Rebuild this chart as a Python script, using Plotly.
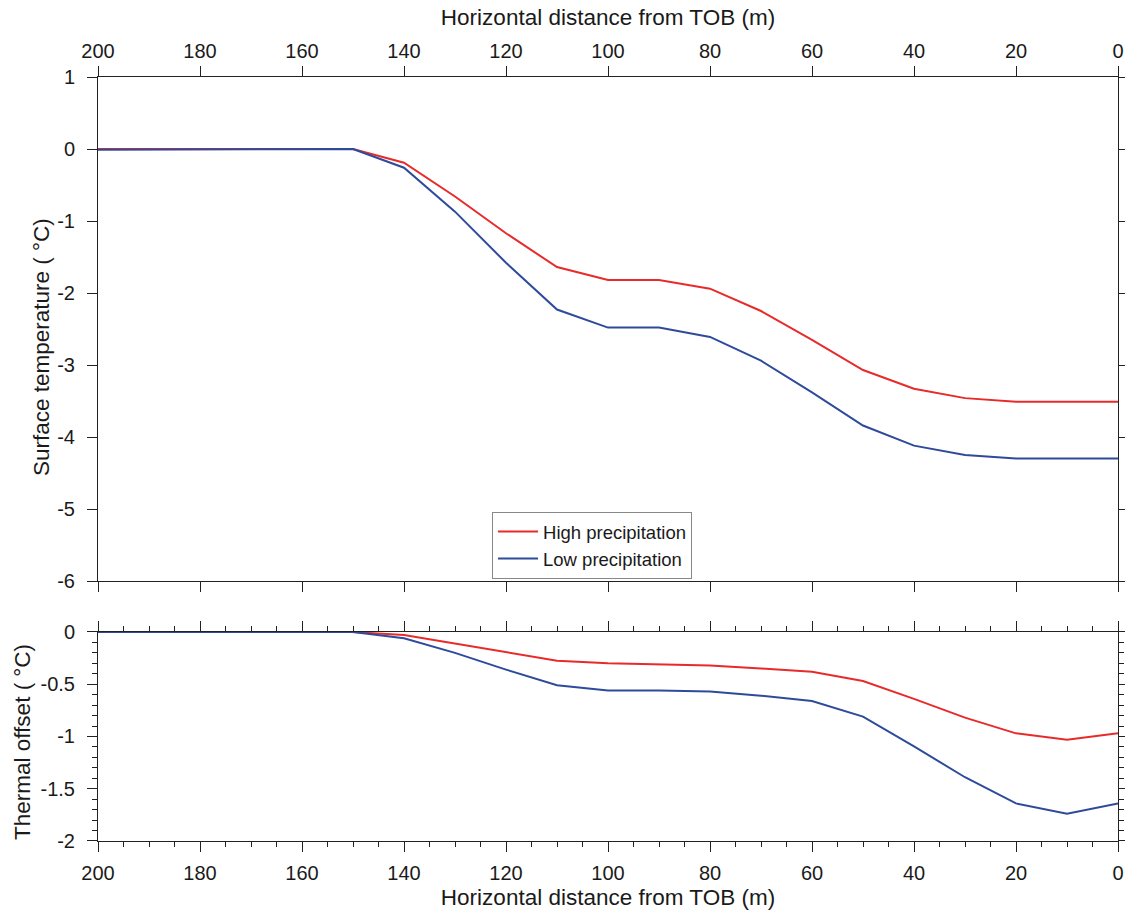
import plotly.graph_objects as go

# Horizontal distance from the top of the bank (m)
distance = [200, 190, 180, 170, 160, 150, 140, 130, 120, 110, 100, 90, 80, 70, 60, 50, 40, 30, 20, 10, 0]

# Surface temperature (°C)
surf_high = [0, 0, 0, 0, 0, 0, -0.19, -0.66, -1.17, -1.64, -1.82, -1.82, -1.94, -2.25, -2.65, -3.07, -3.33, -3.46, -3.51, -3.51, -3.51]
surf_low = [-0.01, -0.01, 0, 0, 0, 0, -0.26, -0.87, -1.58, -2.23, -2.48, -2.48, -2.61, -2.94, -3.38, -3.84, -4.12, -4.25, -4.30, -4.30, -4.30]

# Thermal offset (°C)
off_high = [0, 0, 0, 0, 0, 0, -0.03, -0.11, -0.195, -0.275, -0.30, -0.31, -0.32, -0.35, -0.38, -0.47, -0.64, -0.82, -0.97, -1.03, -0.97]
off_low = [0, 0, 0, 0, 0, 0, -0.06, -0.20, -0.36, -0.51, -0.56, -0.56, -0.57, -0.61, -0.66, -0.81, -1.095, -1.39, -1.64, -1.74, -1.64]

# Tick labels (plain hyphen as minus sign)
x_ticks = [200, 180, 160, 140, 120, 100, 80, 60, 40, 20, 0]
x_labels = ["200", "180", "160", "140", "120", "100", "80", "60", "40", "20", "0"]
surf_ticks = [1, 0, -1, -2, -3, -4, -5, -6]
surf_labels = ["1", "0", "-1", "-2", "-3", "-4", "-5", "-6"]
off_ticks = [0, -0.5, -1, -1.5, -2]
off_labels = ["0", "-0.5", "-1", "-1.5", "-2"]

RED = "#e82a2a"
BLUE = "#2e4b9b"
AXIS = "#222222"
TEXT = "#1a1a1a"
FONT = "Liberation Sans, Arial, Helvetica, sans-serif"
TITLE_SIZE = 22.5

fig = go.Figure()
fig.add_trace(go.Scatter(x=distance, y=surf_high, mode="lines", name="High precipitation",
                         line=dict(color=RED, width=2), xaxis="x", yaxis="y"))
fig.add_trace(go.Scatter(x=distance, y=surf_low, mode="lines", name="Low precipitation",
                         line=dict(color=BLUE, width=2), xaxis="x", yaxis="y"))
fig.add_trace(go.Scatter(x=distance, y=off_high, mode="lines", showlegend=False,
                         line=dict(color=RED, width=2), xaxis="x2", yaxis="y2"))
fig.add_trace(go.Scatter(x=distance, y=off_low, mode="lines", showlegend=False,
                         line=dict(color=BLUE, width=2), xaxis="x2", yaxis="y2"))

common = dict(showgrid=False, zeroline=False, showline=True, linecolor=AXIS, linewidth=1,
              ticks="outside", tickcolor=AXIS, tickwidth=1, mirror="allticks",
              ticklabeloverflow="allow", automargin=False,
              tickfont=dict(size=20, color=TEXT, family=FONT))

xtitle = "Horizontal distance from TOB (m)"

fig.update_layout(
    width=1125, height=915,
    margin=dict(l=98, r=7, t=77, b=74),
    paper_bgcolor="white", plot_bgcolor="white",
    font=dict(family=FONT, color=TEXT),
    xaxis=dict(**common, domain=[0, 1], range=[200, 0], ticklen=10,
               tickvals=x_ticks, ticktext=x_labels,
               side="top", anchor="y",
               title=dict(text=xtitle, font=dict(size=TITLE_SIZE), standoff=8)),
    yaxis=dict(**common, domain=[0.3403, 1.0], range=[-6, 1], ticklen=10,
               tickvals=surf_ticks, ticktext=surf_labels, ticklabelstandoff=8,
               anchor="x"),
    xaxis2=dict(**common, domain=[0, 1], range=[200, 0], ticklen=10,
                tickvals=x_ticks, ticktext=x_labels, ticklabelstandoff=4,
                anchor="y2",
                minor=dict(dtick=5, ticklen=5, ticks="outside", tickcolor=AXIS),
                title=dict(text=xtitle, font=dict(size=TITLE_SIZE), standoff=6)),
    yaxis2=dict(**common, domain=[0, 0.2736], range=[-2, 0], ticklen=10,
                tickvals=off_ticks, ticktext=off_labels, ticklabelstandoff=8,
                anchor="x2",
                minor=dict(dtick=0.1, ticklen=5, ticks="outside", tickcolor=AXIS)),
    legend=dict(x=0.3863, y=0.4306, xanchor="left", yanchor="top",
                bgcolor="white", bordercolor="#888888", borderwidth=1,
                font=dict(size=18.5, family=FONT, color=TEXT),
                tracegroupgap=0, itemwidth=40),
    showlegend=True,
)

# Vertical axis titles
fig.add_annotation(text="Surface temperature ( °C)", textangle=-90, showarrow=False,
                   xref="paper", yref="paper", x=-0.0549, y=0.6466,
                   xanchor="center", yanchor="middle",
                   font=dict(size=TITLE_SIZE, family=FONT, color=TEXT))
fig.add_annotation(text="Thermal offset ( °C)", textangle=-90, showarrow=False,
                   xref="paper", yref="paper", x=-0.0735, y=0.1296,
                   xanchor="center", yanchor="middle",
                   font=dict(size=TITLE_SIZE, family=FONT, color=TEXT))

fig.write_html("out.html")
